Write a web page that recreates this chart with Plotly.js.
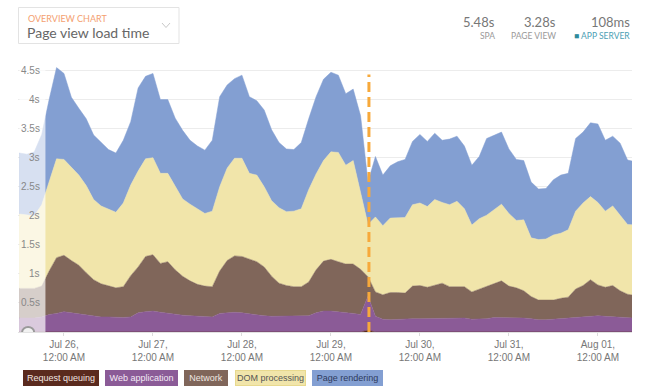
<!DOCTYPE html>
<html>
<head>
<meta charset="utf-8">
<script src="https://cdn.plot.ly/plotly-3.0.1.min.js"></script>
<style>html,body{margin:0;padding:0;background:#fff;}#chart{width:654px;height:390px;}</style>
</head>
<body>
<div id="chart"></div>
<script>
// ---- data (seconds), one sample every 2 hours from Jul 25 12:00 ----
const START = '2016-07-25T12:00:00Z';
const STEP_HOURS = 2;
const seriesNames = ['Request queuing', 'Web application', 'Network', 'DOM processing', 'Page rendering'];

const requestQueuing = [
 0,0,0,0,0,0,0,0,0,0,
 0,0,0,0,0,0,0,0,0,0,
 0,0,0,0,0,0,0,0,0,0,
 0,0,0,0,0,0,0,0,0,0,
 0,0,0,0,0,0,0,0.03,0,0,
 0,0,0,0,0,0,0,0,0,0,
 0,0,0,0,0,0,0,0,0,0,
 0,0,0,0,0,0,0,0,0,0,
 0,0,0,0];
const webApplication = [
 0.24,0.24,0.24,0.26,0.30,0.32,0.35,0.33,0.31,0.30,
 0.28,0.26,0.26,0.25,0.25,0.26,0.33,0.35,0.36,0.34,
 0.32,0.30,0.29,0.28,0.27,0.26,0.26,0.32,0.33,0.34,
 0.33,0.31,0.30,0.28,0.27,0.27,0.27,0.27,0.27,0.28,
 0.33,0.36,0.36,0.35,0.33,0.32,0.30,0.59,0.27,0.22,
 0.21,0.22,0.22,0.23,0.23,0.23,0.24,0.24,0.24,0.24,
 0.24,0.22,0.22,0.23,0.25,0.25,0.25,0.24,0.24,0.23,
 0.21,0.21,0.22,0.23,0.24,0.26,0.27,0.28,0.28,0.27,
 0.26,0.25,0.24,0.24];
const network = [
 0.51,0.51,0.51,0.53,0.75,0.96,0.97,0.90,0.84,0.72,
 0.62,0.57,0.53,0.51,0.53,0.71,0.79,0.95,0.97,0.84,
 0.89,0.77,0.67,0.60,0.55,0.53,0.52,0.73,0.90,0.97,
 0.97,0.95,0.91,0.84,0.69,0.57,0.53,0.51,0.51,0.58,
 0.74,0.86,0.89,0.86,0.84,0.85,0.78,0.33,0.42,0.42,
 0.47,0.46,0.45,0.56,0.57,0.54,0.56,0.60,0.54,0.54,
 0.54,0.47,0.52,0.56,0.58,0.63,0.54,0.52,0.47,0.38,
 0.34,0.34,0.33,0.35,0.36,0.48,0.53,0.62,0.53,0.50,
 0.54,0.46,0.41,0.39];
const domProcessing = [
 1.28,1.27,1.25,1.40,1.53,1.70,1.65,1.61,1.55,1.50,
 1.38,1.34,1.32,1.30,1.44,1.56,1.65,1.68,1.67,1.55,
 1.52,1.43,1.33,1.32,1.30,1.25,1.30,1.45,1.59,1.68,
 1.69,1.47,1.49,1.38,1.30,1.30,1.27,1.30,1.34,1.59,
 1.65,1.73,1.85,1.88,1.70,1.78,1.32,0.90,1.29,1.19,
 1.28,1.28,1.30,1.40,1.42,1.39,1.48,1.39,1.41,1.47,
 1.34,1.15,1.21,1.22,1.27,1.32,1.25,1.16,1.22,1.01,
 1.04,1.05,1.12,1.12,1.16,1.34,1.42,1.43,1.42,1.31,
 1.37,1.29,1.20,1.21];
const pageRendering = [
 1.05,1.04,1.10,1.21,1.42,1.57,1.48,1.20,1.15,1.15,
 1.11,1.10,1.03,1.02,1.08,1.09,1.43,1.42,1.45,1.27,
 1.27,1.18,1.18,1.10,1.08,1.09,1.22,1.55,1.43,1.37,
 1.43,1.32,1.28,1.32,1.22,1.12,1.08,1.06,1.14,1.22,
 1.33,1.40,1.37,1.33,1.23,1.23,1.32,0.73,1.04,0.87,
 0.90,0.97,1.00,1.09,1.18,1.12,1.14,1.07,1.13,1.12,
 1.08,1.03,1.07,1.32,1.28,1.24,1.11,1.05,1.02,0.96,
 0.87,0.87,0.95,1.00,0.97,1.25,1.22,1.27,1.35,1.22,
 1.20,1.25,1.11,1.09];

const xTickVals = ['2016-07-26','2016-07-27','2016-07-28','2016-07-29','2016-07-30','2016-07-31','2016-08-01'];
const xTickText = ['Jul 26,<br>12:00 AM','Jul 27,<br>12:00 AM','Jul 28,<br>12:00 AM','Jul 29,<br>12:00 AM','Jul 30,<br>12:00 AM','Jul 31,<br>12:00 AM','Aug 01,<br>12:00 AM'];
const yTickVals = [0.5,1,1.5,2,2.5,3,3.5,4,4.5];
const yTickText = ['0.5s','1s','1.5s','2s','2.5s','3s','3.5s','4s','4.5s'];
const summaryValues = ['5.48s','3.28s','108ms'];
const summaryLabels = ['SPA','PAGE VIEW','APP SERVER'];
const deployTime = '2016-07-29 10:15';
const fadeEnd = '2016-07-25 19:00';

// time axis
function fmt(d){const p=n=>String(n).padStart(2,'0');return d.getUTCFullYear()+'-'+p(d.getUTCMonth()+1)+'-'+p(d.getUTCDate())+' '+p(d.getUTCHours())+':'+p(d.getUTCMinutes());}
const t0 = new Date(START).getTime();
const times = pageRendering.map((_, i) => fmt(new Date(t0 + i*STEP_HOURS*3600e3)));

const colors = ['#5a2a1e','#8b5b97','#80665a','#f1e5aa','#839fd2'];
const values = [requestQueuing, webApplication, network, domProcessing, pageRendering];

const traces = values.map((v, i) => ({
  x: times, y: v, name: seriesNames[i], type: 'scatter', mode: 'lines',
  stackgroup: 'one', line: {width: 0.5, color: colors[i]}, fillcolor: colors[i], hoverinfo: 'skip'
}));

const PX = v => (v - 18) / 614;   // page px -> paper x
const PY = v => (332 - v) / 276;  // page px -> paper y

const annotations = [
  {xref:'paper',yref:'paper',x:PX(26),y:PY(18),xanchor:'left',yanchor:'middle',showarrow:false,
   text:'OVERVIEW CHART',font:{family:'Lato, sans-serif',size:9,color:'#f4a070'}},
  {xref:'paper',yref:'paper',x:PX(25),y:PY(32),xanchor:'left',yanchor:'middle',showarrow:false,
   text:'Page view load time',font:{family:'Lato, sans-serif',size:14,color:'#666'}},
];
const sumX = [497, 558, 632];
summaryValues.forEach((s, i) => {
  annotations.push({xref:'paper',yref:'paper',x:PX(sumX[i]),y:PY(21.5),xanchor:'right',yanchor:'middle',showarrow:false,
    text:s,font:{family:'Lato, sans-serif',size:13,color:'#777'}});
  annotations.push({xref:'paper',yref:'paper',x:PX(sumX[i]),y:PY(35.5),xanchor:'right',yanchor:'middle',showarrow:false,
    text:(i===2?'<span style="color:#2e8a9c">■</span> ':'')+summaryLabels[i],
    font:{family:'Lato, sans-serif',size:8.5,color:i===2?'#4aa0b4':'#999'}});
});
// y tick labels (drawn on top of the faded history band)
yTickVals.forEach((v, i) => {
  annotations.push({xref:'paper',yref:'y',x:PX(42),y:v,xanchor:'right',yanchor:'middle',showarrow:false,
    text:yTickText[i],font:{family:'Liberation Sans, Arial, sans-serif',size:10,color:'#888'}});
});
const legX = [61, 141.5, 206, 270.5, 347.5];
const legW = [76, 73, 44, 71, 71];
const legText = ['#f1e6e0','#f4eaf6','#efe6e0','#555','#2e3a5c'];
seriesNames.forEach((n, i) => {
  annotations.push({xref:'paper',yref:'paper',x:PX(legX[i]),y:PY(378),xanchor:'center',yanchor:'middle',showarrow:false,
    text:n,width:legW[i]-4,height:12,bgcolor:colors[i],bordercolor:i===3?'#e8d98e':colors[i],borderwidth:1,borderpad:1,
    font:{family:'Liberation Sans, Arial, sans-serif',size:9,color:legText[i]}});
});

const shapes = [
  {type:'rect',xref:'x',yref:'paper',x0:times[0],x1:fadeEnd,y0:0,y1:1,fillcolor:'rgba(255,255,255,0.68)',line:{width:0},layer:'above'},
  {type:'line',xref:'x',yref:'y',x0:deployTime,x1:deployTime,y0:0,y1:4.43,line:{color:'#f7a93b',width:3,dash:'10px,5px'},layer:'above'},
  {type:'circle',xref:'x',yref:'y',xsizemode:'pixel',ysizemode:'pixel',xanchor:'2016-07-25 14:20',yanchor:0,
   x0:-6,x1:6,y0:-5,y1:5,fillcolor:'#f2f2f2',line:{color:'#9a9a9a',width:2},layer:'above'},
  {type:'rect',xref:'paper',yref:'paper',x0:PX(18.5),x1:PX(179),y0:PY(43.5),y1:PY(7.5),fillcolor:'rgba(0,0,0,0)',line:{color:'#e3e3e3',width:1}},
  {type:'path',xref:'paper',yref:'paper',path:`M${PX(162)},${PY(23)} L${PX(166)},${PY(27.5)} L${PX(170)},${PY(23)}`,line:{color:'#c8c8c8',width:1}},
];

const layout = {
  width:654, height:390,
  margin:{l:18, r:22, t:56, b:58},
  paper_bgcolor:'#fff', plot_bgcolor:'#fff',
  showlegend:false, hovermode:false,
  xaxis:{type:'date', range:['2016-07-25 11:36','2016-08-01 09:12'], tickvals:xTickVals, ticktext:xTickText,
    showgrid:false, zeroline:false, showline:true, linecolor:'#e2e2e2', ticks:'outside', ticklen:3, tickcolor:'#dcdcdc',
    tickfont:{family:'Liberation Sans, Arial, sans-serif', size:10, color:'#777'}},
  yaxis:{range:[0,4.75], tickvals:yTickVals, ticktext:yTickText, showticklabels:false,
    showgrid:true, gridcolor:'#ececec', zeroline:false, showline:false, ticks:''},
  annotations, shapes
};

Plotly.newPlot('chart', traces, layout, {staticPlot:true, displayModeBar:false});
</script>
</body>
</html>
